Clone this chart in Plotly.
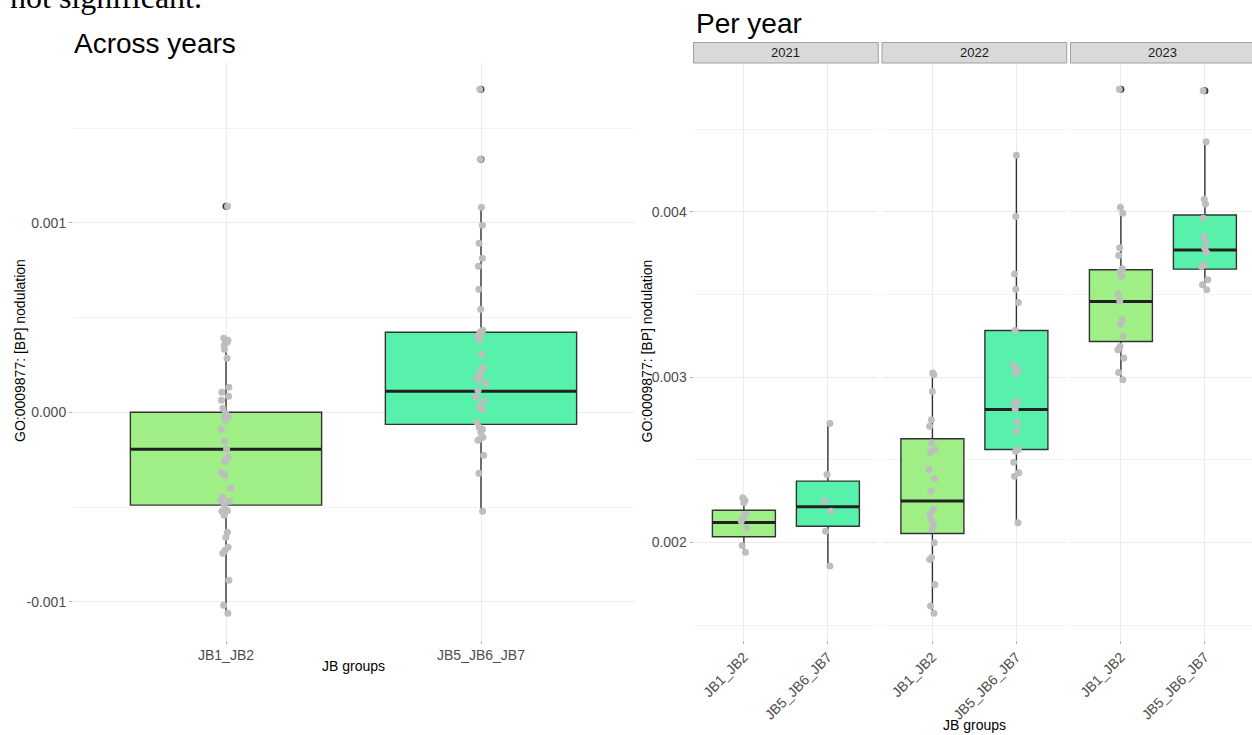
import plotly.graph_objects as go

W, H = 1252, 735

# ---------------- data ----------------
groups = ["JB1_JB2", "JB5_JB6_JB7"]
years = ["2021", "2022", "2023"]
fills = ["#A0EE86", "#57F1AB"]

# Across years: individual values
across_jb12 = [0.001087, 0.000391, 0.000380, 0.000375, 0.000369, 0.000354, 0.000332, 0.000285,
               0.000132, 0.000106, 0.000084, 0.000063, 0.000021, -0.000005, -0.000021, -0.000030,
               -0.000042, -0.000090, -0.000153, -0.000195, -0.000237, -0.000253, -0.000260,
               -0.000317, -0.000332, -0.000401, -0.000449, -0.000464, -0.000470, -0.000491,
               -0.000520, -0.000522, -0.000544, -0.000633, -0.000660, -0.000712, -0.000728,
               -0.000744, -0.000887, -0.001018, -0.001061]
across_jb567 = [0.001705, 0.001335, 0.001082, 0.000987, 0.000892, 0.000813, 0.000770, 0.000649,
                0.000544, 0.000433, 0.000422, 0.000410, 0.000401, 0.000380, 0.000306, 0.000237,
                0.000216, 0.000195, 0.000180, 0.000174, 0.000153, 0.000116, 0.000079, 0.000060,
                0.000032, 0.000016, -0.000053, -0.000079, -0.000090, -0.000106, -0.000132,
                -0.000140, -0.000148, -0.000227, -0.000322, -0.000522]

# Across years: box statistics [q1, median, q3, lower whisker, upper whisker]
across_stats = [
    [-0.000490, -0.000195, 0.000000, -0.001061, 0.000391],
    [-0.000064, 0.000111, 0.000422, -0.000522, 0.001082],
]

# Per year: individual values
y2021_jb12 = [0.002270, 0.002254, 0.002240, 0.002170, 0.002149, 0.002129, 0.002089, 0.001982, 0.001941]
y2021_jb567 = [0.002719, 0.002411, 0.002250, 0.002189, 0.002068, 0.001857]
y2022_jb12 = [0.003025, 0.003015, 0.002914, 0.002743, 0.002703, 0.002602, 0.002562, 0.002546,
              0.002441, 0.002385, 0.002310, 0.002199, 0.002169, 0.002139, 0.002109, 0.002079,
              0.001998, 0.001908, 0.001897, 0.001746, 0.001615, 0.001571]
y2022_jb567 = [0.004344, 0.003972, 0.003625, 0.003533, 0.003452, 0.003283, 0.003070, 0.003045,
               0.003021, 0.002854, 0.002834, 0.002808, 0.002727, 0.002673, 0.002562, 0.002552,
               0.002485, 0.002421, 0.002401, 0.002119]
y2023_jb12 = [0.004743, 0.004028, 0.003992, 0.003784, 0.003736, 0.003656, 0.003636, 0.003609,
              0.003503, 0.003462, 0.003347, 0.003323, 0.003251, 0.003186, 0.003166, 0.003116,
              0.003029, 0.002985]
y2023_jb567 = [0.004733, 0.004425, 0.004077, 0.004048, 0.003962, 0.003851, 0.003811, 0.003781,
               0.003754, 0.003680, 0.003670, 0.003589, 0.003559, 0.003529]

# Per year: box statistics [q1, median, q3, lower whisker, upper whisker]
stats_2021 = [[0.002034, 0.002121, 0.002195, 0.001941, 0.002270],
              [0.002098, 0.002216, 0.002371, 0.001857, 0.002719]]
stats_2022 = [[0.002054, 0.002250, 0.002627, 0.001571, 0.003025],
              [0.002562, 0.002805, 0.003283, 0.002119, 0.004344]]
stats_2023 = [[0.003216, 0.003458, 0.003650, 0.002985, 0.004028],
              [0.003654, 0.003770, 0.003982, 0.003529, 0.004425]]

left_ticks = [-0.001, 0.0, 0.001]
left_ticktext = ["-0.001", "0.000", "0.001"]
left_minor = [-0.0005, 0.0005, 0.0015]
right_ticks = [0.002, 0.003, 0.004]
right_ticktext = ["0.002", "0.003", "0.004"]
right_minor = [0.0015, 0.0025, 0.0035, 0.0045]

# ---------------- styling ----------------
FONT = "Liberation Sans"
BOX_LINE = "#333333"
MED_LINE = "#222222"
PT_COL = "#BEBEBE"
GRID = "#EBEBEB"
GRID_MINOR = "#F3F3F3"
TICK_COL = "#4D4D4D"
BOXW = 0.75
CLEAR = "rgba(0,0,0,0)"


def px_x(p):
    return p / W


def px_y(p):
    return 1 - p / H


def expanded(vals):
    lo, hi = min(vals), max(vals)
    r = hi - lo
    return [lo - 0.05 * r, hi + 0.05 * r]


fig = go.Figure()


def add_panel(xa, ya, values, stats, jitter):
    for g in range(2):
        q1, med, q3, lo, hi = stats[g]
        # box with whiskers
        fig.add_trace(go.Box(
            x=[g], q1=[q1], median=[med], q3=[q3], lowerfence=[lo], upperfence=[hi],
            width=BOXW, fillcolor=fills[g], line=dict(color=BOX_LINE, width=1.4),
            whiskerwidth=0, boxpoints=False, xaxis=xa, yaxis=ya,
            showlegend=False, hoverinfo="skip"))
        # thick median line (degenerate box at the median)
        fig.add_trace(go.Box(
            x=[g], q1=[med], median=[med], q3=[med], lowerfence=[med], upperfence=[med],
            width=BOXW, fillcolor=CLEAR, line=dict(color=MED_LINE, width=3),
            whiskerwidth=0, boxpoints=False, xaxis=xa, yaxis=ya,
            showlegend=False, hoverinfo="skip"))
        # outliers (dark), beneath the jittered points
        outl = [v for v in values[g] if v > hi or v < lo]
        if outl:
            fig.add_trace(go.Box(
                x=[g] * len(outl), y=outl, width=BOXW, boxpoints="all", jitter=0, pointpos=0,
                fillcolor=CLEAR, line=dict(color=CLEAR, width=0),
                marker=dict(color="#333333", size=7), xaxis=xa, yaxis=ya,
                showlegend=False, hoverinfo="skip"))
        # jittered raw points
        fig.add_trace(go.Box(
            x=[g] * len(values[g]), y=values[g], width=BOXW,
            boxpoints="all", jitter=jitter, pointpos=0,
            fillcolor=CLEAR, line=dict(color=CLEAR, width=0),
            marker=dict(color=PT_COL, size=7), xaxis=xa, yaxis=ya,
            showlegend=False, hoverinfo="skip"))


add_panel("x", "y", [across_jb12, across_jb567], across_stats, 0.06)
add_panel("x2", "y2", [y2021_jb12, y2021_jb567], stats_2021, 0.12)
add_panel("x3", "y3", [y2022_jb12, y2022_jb567], stats_2022, 0.12)
add_panel("x4", "y4", [y2023_jb12, y2023_jb567], stats_2023, 0.12)

ydom = [px_y(639.5), px_y(63)]
left_range = expanded(across_jb12 + across_jb567)
right_range = expanded(y2021_jb12 + y2021_jb567 + y2022_jb12 + y2022_jb567 + y2023_jb12 + y2023_jb567)

xcommon = dict(tickmode="array", tickvals=[0, 1], ticktext=groups, showgrid=True, gridcolor=GRID,
               gridwidth=1, zeroline=False, showline=False, ticks="outside", ticklen=3,
               tickcolor="#B0B0B0", tickfont=dict(family=FONT, size=14, color=TICK_COL))
ycommon = dict(showgrid=True, gridcolor=GRID, gridwidth=1, zeroline=False, showline=False,
               tickfont=dict(family=FONT, size=14, color=TICK_COL))

facet_px = [(693.5, 878.3), (882.0, 1066.8), (1070.5, 1255.3)]

layout = dict(
    width=W, height=H, margin=dict(l=0, r=0, t=0, b=0),
    paper_bgcolor="white", plot_bgcolor="white", boxmode="overlay",
    xaxis=dict(domain=[px_x(73), px_x(634)], range=[-0.6, 1.6], anchor="y", **xcommon),
    yaxis=dict(domain=ydom, range=left_range, anchor="x", tickmode="array", tickvals=left_ticks,
               ticktext=left_ticktext, ticks="outside", ticklen=3, tickcolor="#B0B0B0",
               minor=dict(tickmode="array", tickvals=left_minor, showgrid=True,
                          gridcolor=GRID_MINOR, ticks=""),
               **ycommon),
)
for i, (a, b) in enumerate(facet_px):
    xn = f"xaxis{i + 2}"
    yn = f"yaxis{i + 2}"
    upper = 1.6
    if b > W:
        upper = 1.6 - (b - W) / ((b - a) / 2.2)
        b = W
    layout[xn] = dict(domain=[px_x(a), px_x(b)], range=[-0.6, upper], anchor=f"y{i + 2}",
                      tickangle=-45, **xcommon)
    ya = dict(domain=ydom, range=right_range, anchor=f"x{i + 2}", tickmode="array",
              tickvals=right_ticks, ticktext=right_ticktext,
              minor=dict(tickmode="array", tickvals=right_minor, showgrid=True,
                         gridcolor=GRID_MINOR, ticks=""),
              **ycommon)
    if i == 0:
        ya.update(ticks="outside", ticklen=3, tickcolor="#B0B0B0", showticklabels=True)
    else:
        ya.update(matches="y2", showticklabels=False, ticks="")
    layout[yn] = ya

fig.update_layout(**layout)

# strips
shapes = []
annotations = []
for i, (a, b) in enumerate(facet_px):
    shapes.append(dict(type="rect", xref="paper", yref="paper", x0=px_x(a), x1=px_x(min(b, W + 2)),
                       y0=px_y(63), y1=px_y(42.5), fillcolor="#D9D9D9",
                       line=dict(color="#A0A0A0", width=1), layer="above"))
    annotations.append(dict(text=years[i], xref="paper", yref="paper", x=px_x((a + b) / 2),
                            y=px_y(52.5), xanchor="center", yanchor="middle", showarrow=False,
                            font=dict(family=FONT, size=13, color="#1A1A1A")))

annotations += [
    dict(text="Across years", xref="paper", yref="paper", x=px_x(72), y=px_y(44),
         xanchor="left", yanchor="middle", showarrow=False,
         font=dict(family=FONT, size=28, color="black")),
    dict(text="Per year", xref="paper", yref="paper", x=px_x(694), y=px_y(23.5),
         xanchor="left", yanchor="middle", showarrow=False,
         font=dict(family=FONT, size=28, color="black")),
    dict(text="GO:0009877: [BP] nodulation", xref="paper", yref="paper", x=px_x(20),
         y=px_y(351), xanchor="center", yanchor="middle", textangle=-90, showarrow=False,
         font=dict(family=FONT, size=14, color="black")),
    dict(text="GO:0009877: [BP] nodulation", xref="paper", yref="paper", x=px_x(646.5),
         y=px_y(351), xanchor="center", yanchor="middle", textangle=-90, showarrow=False,
         font=dict(family=FONT, size=14, color="black")),
    dict(text="JB groups", xref="paper", yref="paper", x=px_x(353.5), y=px_y(666),
         xanchor="center", yanchor="middle", showarrow=False,
         font=dict(family=FONT, size=14, color="black")),
    dict(text="JB groups", xref="paper", yref="paper", x=px_x(974.5), y=px_y(725),
         xanchor="center", yanchor="middle", showarrow=False,
         font=dict(family=FONT, size=14, color="black")),
    dict(text="not significant.", xref="paper", yref="paper", x=px_x(8), y=px_y(17),
         xanchor="left", yanchor="bottom", showarrow=False,
         font=dict(family="Liberation Serif", size=32, color="black")),
]
fig.update_layout(shapes=shapes, annotations=annotations)

fig.write_html("out.html")
